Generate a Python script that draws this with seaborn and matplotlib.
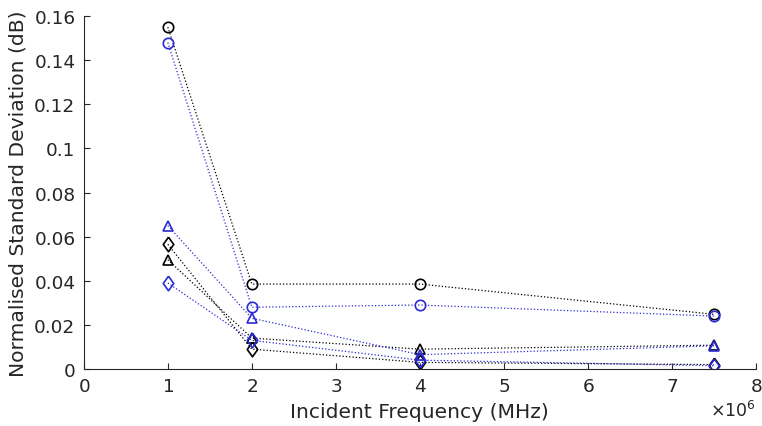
import numpy as np
import pandas as pd
import matplotlib
matplotlib.use("Agg")
import matplotlib.pyplot as plt
import seaborn as sns
from matplotlib.ticker import ScalarFormatter

# Incident frequencies (Hz)
freq_hz = [1.0e6, 2.0e6, 4.0e6, 7.5e6]

# Normalised standard deviation (dB) for each configuration
circle_black = [0.155, 0.0385, 0.0385, 0.0248]
circle_blue = [0.148, 0.0280, 0.0290, 0.0240]
triangle_black = [0.0495, 0.0140, 0.0090, 0.0108]
triangle_blue = [0.0650, 0.0230, 0.0065, 0.0105]
diamond_black = [0.0565, 0.0090, 0.0030, 0.0020]
diamond_blue = [0.0390, 0.0130, 0.0040, 0.0015]

x_ticks = [0, 1, 2, 3, 4, 5, 6, 7, 8]
y_ticks = [0, 0.02, 0.04, 0.06, 0.08, 0.1, 0.12, 0.14, 0.16]
y_tick_labels = ["0", "0.02", "0.04", "0.06", "0.08", "0.1", "0.12", "0.14", "0.16"]

BLACK = "#000000"
BLUE = "#2a2ad6"
TEXT = "#262626"

# Slightly narrow diamond marker
DIAMOND = [(0, 1), (0.72, 0), (0, -1), (-0.72, 0), (0, 1)]

series = [
    (circle_black, "o", BLACK),
    (triangle_black, "^", BLACK),
    (diamond_black, DIAMOND, BLACK),
    (circle_blue, "o", BLUE),
    (triangle_blue, "^", BLUE),
    (diamond_blue, DIAMOND, BLUE),
]

sns.set_theme(style="ticks")
plt.rcParams["font.family"] = ["DejaVu Sans"]

fig = plt.figure(figsize=(7.62, 4.27), dpi=100)
ax = fig.add_axes([0.110, 0.1335, 0.882, 0.8265])

for values, marker, color in series:
    df = pd.DataFrame({"freq": freq_hz, "std": values})
    msize = 10.5 if marker is DIAMOND else 7.5
    sns.lineplot(
        data=df, x="freq", y="std", ax=ax, color=color,
        linestyle=":", linewidth=0.9, marker=marker,
        markersize=msize, markerfacecolor="none",
        markeredgecolor=color, markeredgewidth=1.2,
        legend=False, estimator=None, sort=False,
    )

ax.set_xlim(0, 8e6)
ax.set_ylim(0, 0.16)
ax.set_xticks([t * 1e6 for t in x_ticks])
ax.set_yticks(y_ticks)
ax.set_yticklabels(y_tick_labels)

fmt = ScalarFormatter(useMathText=True)
fmt.set_powerlimits((0, 0))
ax.xaxis.set_major_formatter(fmt)

ax.set_xlabel("Incident Frequency (MHz)", fontsize=14.6, color=TEXT, labelpad=5)
ax.set_ylabel("Normalised Standard Deviation (dB)", fontsize=14.6, color=TEXT, labelpad=5)

ax.tick_params(direction="in", length=4, width=0.8, colors=TEXT,
               labelsize=13.3, pad=6)
ax.xaxis.get_offset_text().set_fontsize(12.5)
ax.xaxis.get_offset_text().set_color(TEXT)

for side in ("top", "right"):
    ax.spines[side].set_visible(False)
for side in ("left", "bottom"):
    ax.spines[side].set_color(TEXT)
    ax.spines[side].set_linewidth(0.8)

fig.savefig("out.png", dpi=100)
